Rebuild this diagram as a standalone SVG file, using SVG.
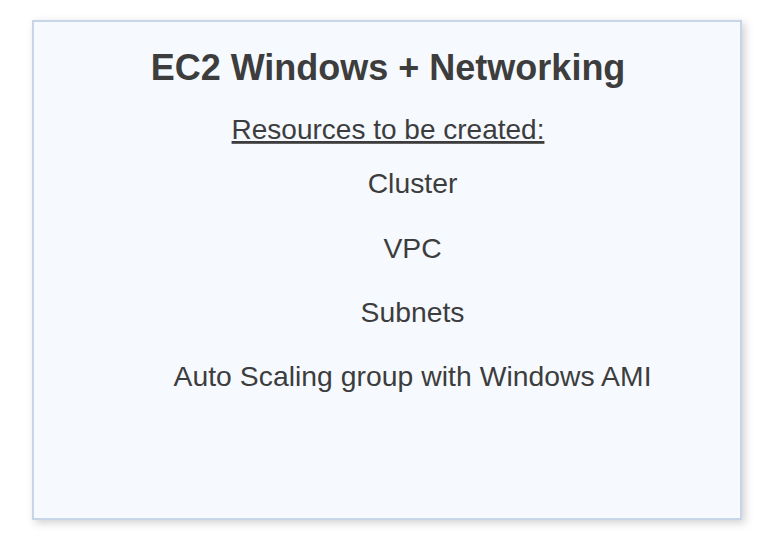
<svg xmlns="http://www.w3.org/2000/svg" width="774" height="558" viewBox="0 0 774 558">
  <style>
    .t { font-family: "Liberation Sans", Arial, Helvetica, sans-serif; fill: #3d3d3d; text-anchor: middle; }
    .title { font-size: 36px; font-weight: bold; }
    .sub { font-size: 28px; text-decoration: underline; }
    .item { font-size: 28.3px; }
  </style>
  <defs>
    <filter id="shadow" x="-10%" y="-10%" width="120%" height="120%">
      <feDropShadow dx="3" dy="3" stdDeviation="4" flood-color="#000" flood-opacity="0.18"/>
    </filter>
  </defs>
  <rect width="774" height="558" fill="#ffffff"/>
  <g id="card">
    <rect x="33" y="21" width="708" height="498" fill="#f6faff" stroke="#c6d5e8" stroke-width="2" filter="url(#shadow)"/>
    <text class="t title" x="388" y="80">EC2 Windows + Networking</text>
    <text class="t sub" x="388" y="139">Resources to be created:</text>
    <text class="t item" x="412.5" y="193">Cluster</text>
    <text class="t item" x="412.5" y="258">VPC</text>
    <text class="t item" x="412.5" y="322">Subnets</text>
    <text class="t item" x="412.5" y="386" textLength="478" lengthAdjust="spacing">Auto Scaling group with Windows AMI</text>
  </g>
</svg>
